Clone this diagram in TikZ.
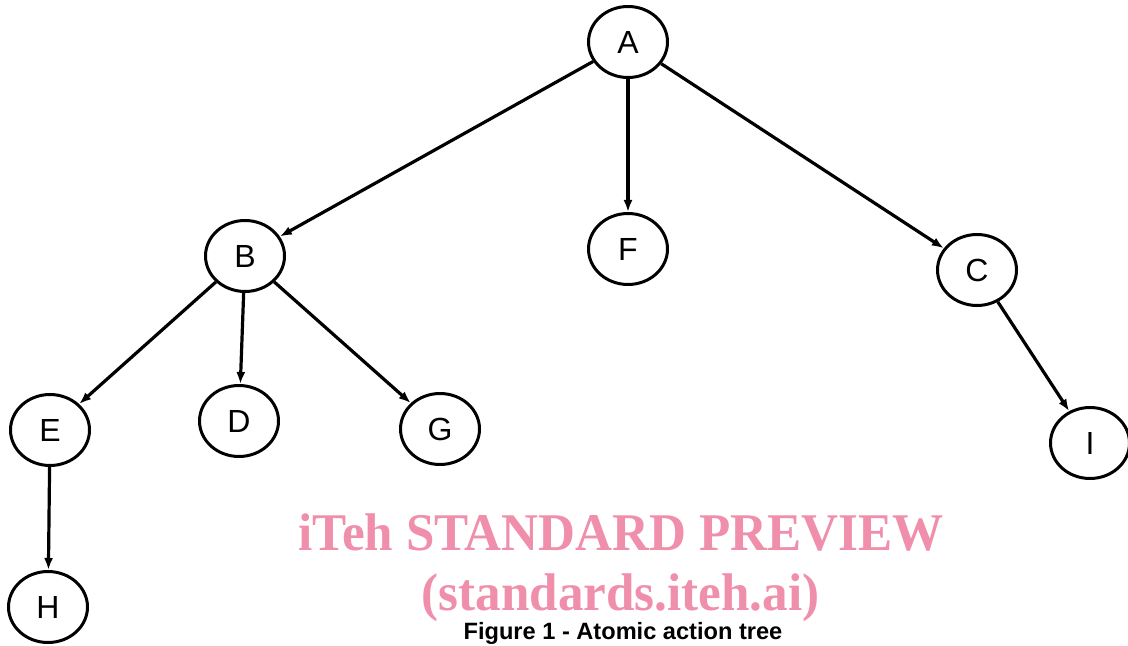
\documentclass[tikz,border=0pt]{standalone}
\usepackage{fontspec}
\setmainfont{Liberation Sans}
\newfontfamily\wmfont{Liberation Serif}
\definecolor{itehpink}{HTML}{EF8FAB}
\usetikzlibrary{positioning, arrows.meta, shapes.geometric}

\begin{document}
\begin{tikzpicture}[x=0.5pt, y=-0.5pt, on grid,
    act/.style={ellipse, draw, line width=1.5pt, minimum width=39.5pt, minimum height=35.5pt,
                inner sep=0pt, font=\fontsize{16}{19}\selectfont},
    arr/.style={-{Latex[length=6pt,width=4.5pt]}, line width=1.6pt},
    wmark/.style={text=itehpink, anchor=base, font=\wmfont\bfseries\fontsize{26.5}{31}\selectfont},
  ]
    \useasboundingbox (0,0) rectangle (1128,646);
    \node[act] (A) at (628,42) {A};
    \node[act, below left=107pt and 191.5pt of A] (B) {B};
    \node[act, below=103.5pt of A] (F) {F};
    \node[act, below right=114pt and 174.5pt of A] (C) {C};
    \node[act, below left=87pt and 97.5pt of B] (E) {E};
    \node[act, below=82.5pt of B, xshift=-3pt] (D) {D};
    \node[act, below right=86.5pt and 97.5pt of B] (G) {G};
    \node[act, below=88.5pt of E, xshift=-1pt] (H) {H};
    \node[act, below right=86.5pt and 56.5pt of C] (I) {I};
    \draw[arr] (A) -- (B);
    \draw[arr] (A) -- (F);
    \draw[arr] (A) -- (C);
    \draw[arr] (B) -- (E);
    \draw[arr] (B) -- (D);
    \draw[arr] (B) -- (G);
    \draw[arr] (E) -- (H);
    \draw[arr] (C) -- (I);
    % watermark and caption
    \node[wmark] (wm1) at (621,550) {\scalebox{0.965}[1]{iTeh STANDARD PREVIEW}};
    \node[wmark] (wm2) at (620.5,610) {\scalebox{0.965}[1]{(standards.iteh.ai)}};
    \node[anchor=base, font=\bfseries\fontsize{11.8}{14}\selectfont] (cap) at (623,639) {Figure 1 - Atomic action tree};
  \end{tikzpicture}
\end{document}
